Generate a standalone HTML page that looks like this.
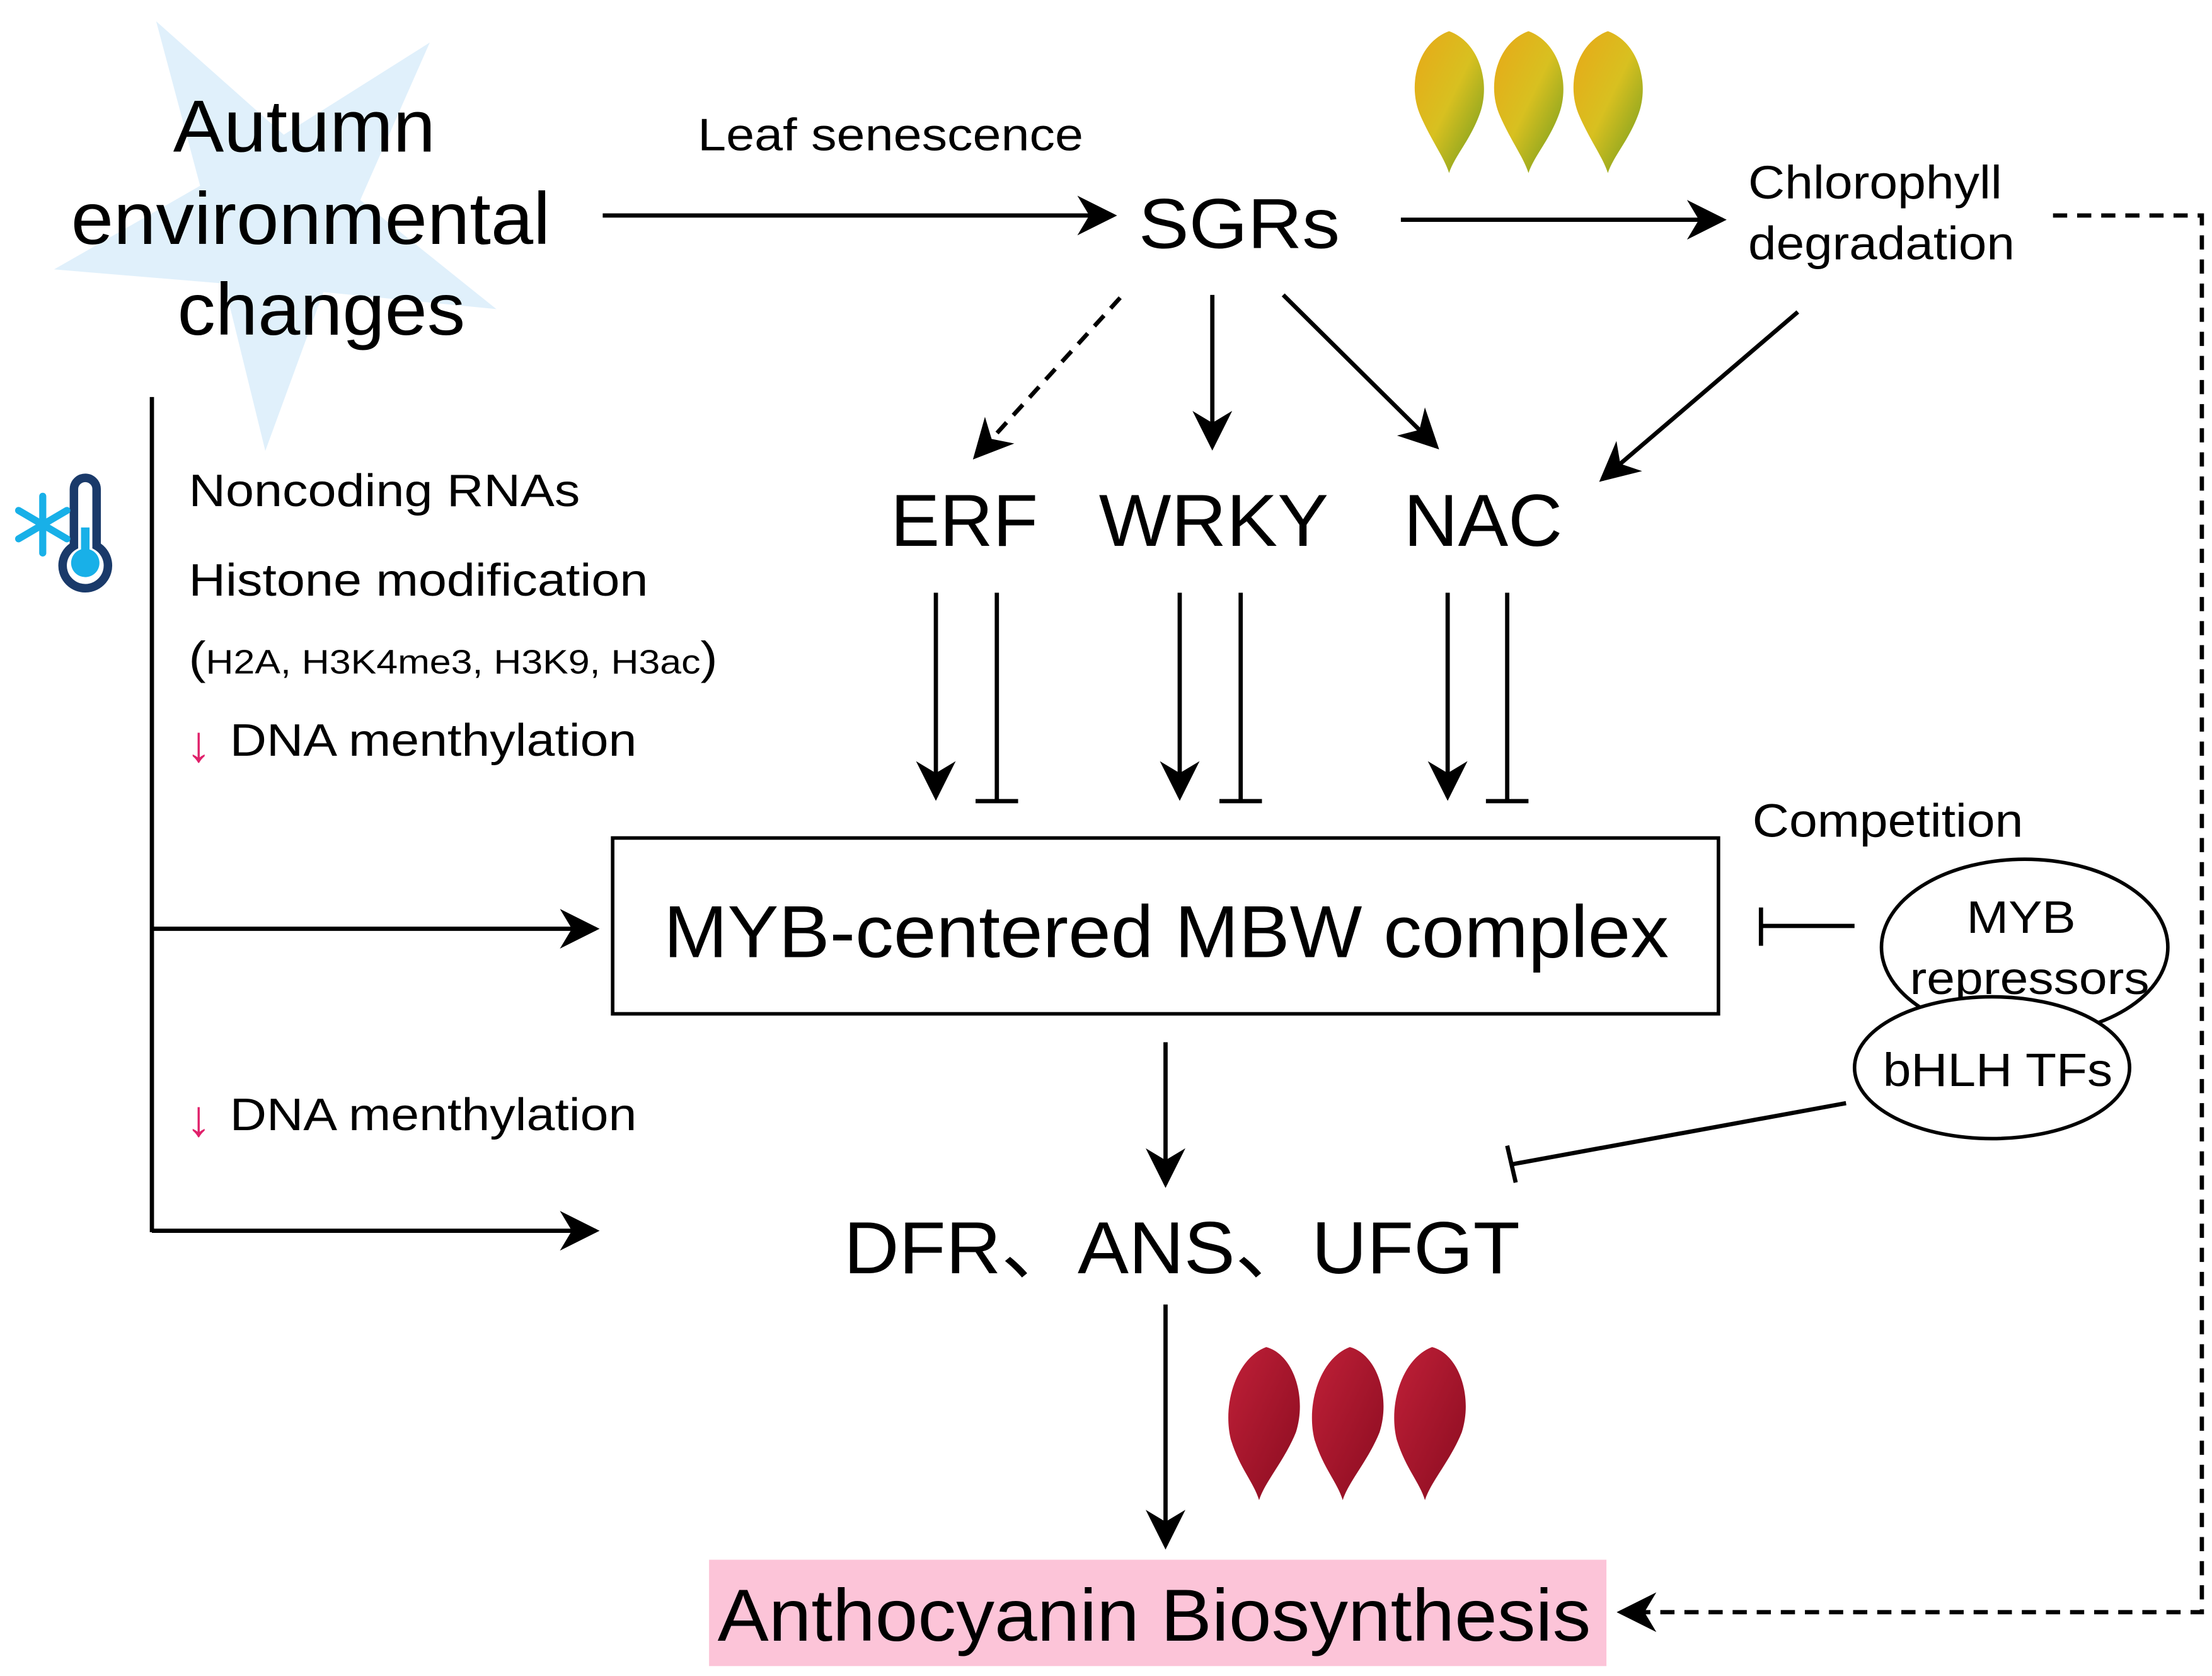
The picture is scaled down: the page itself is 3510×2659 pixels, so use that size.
<!DOCTYPE html>
<html><head><meta charset="utf-8"><style>
html,body{margin:0;padding:0;background:#fff;}
svg{display:block;}
text{font-family:"Liberation Sans",Arial,"Noto Sans CJK SC",sans-serif;fill:#000;}
</style></head><body>
<svg width="3510" height="2659" viewBox="0 0 1560 1182" xmlns="http://www.w3.org/2000/svg">
<defs>
<marker id="ahb" viewBox="0 0 10 10" refX="9" refY="5" markerWidth="28" markerHeight="28" markerUnits="userSpaceOnUse" orient="auto">
<path d="M0,0 L10,5 L0,10 L3,5 z" fill="#000"/></marker>
<linearGradient id="yl" x1="0" y1="0" x2="1" y2="1">
<stop offset="0" stop-color="#e8a818"/><stop offset="0.5" stop-color="#d8c020"/><stop offset="1" stop-color="#6a9a20"/></linearGradient>
<linearGradient id="rl" x1="0" y1="0" x2="1" y2="1">
<stop offset="0" stop-color="#c02038"/><stop offset="1" stop-color="#8a0c20"/></linearGradient>
</defs>
<rect width="1560" height="1182" fill="#fff"/>
<polygon points="110,15 200,95 303,30 254,141 350,218 228,206 187,318 158,200 38,190 141,131" fill="#e0f0fb"/>
<g font-size="52">
<text x="122" y="107" textLength="185" lengthAdjust="spacingAndGlyphs">Autumn</text>
<text x="50" y="172" textLength="338" lengthAdjust="spacingAndGlyphs">environmental</text>
<text x="125" y="236" textLength="203" lengthAdjust="spacingAndGlyphs">changes</text>
</g>
<text x="492" y="106" font-size="32" textLength="272" lengthAdjust="spacingAndGlyphs">Leaf senescence</text>
<line x1="425" y1="152" x2="785" y2="152" stroke="#000" stroke-width="3" marker-end="url(#ahb)"/>
<text x="803" y="175" font-size="50" textLength="142" lengthAdjust="spacingAndGlyphs">SGRs</text>
<line x1="988" y1="155" x2="1215" y2="155" stroke="#000" stroke-width="3" marker-end="url(#ahb)"/>
<text x="1233" y="140" font-size="33" textLength="179" lengthAdjust="spacingAndGlyphs">Chlorophyll</text>
<text x="1233" y="183" font-size="33" textLength="188" lengthAdjust="spacingAndGlyphs">degradation</text>

<g>
<path d="M1022,22 C1000,30 992,60 1002,82 C1010,100 1018,110 1022,122 C1026,110 1036,100 1043,82 C1052,60 1044,30 1022,22 z" fill="url(#yl)"/>
<path d="M1078,22 C1056,30 1048,60 1058,82 C1066,100 1074,110 1078,122 C1082,110 1092,100 1099,82 C1108,60 1100,30 1078,22 z" fill="url(#yl)"/>
<path d="M1134,22 C1112,30 1104,60 1114,82 C1122,100 1130,110 1134,122 C1138,110 1148,100 1155,82 C1164,60 1156,30 1134,22 z" fill="url(#yl)"/>
</g>

<polyline points="1448,152 1553,152 1553,1137 1143,1137" fill="none" stroke="#000" stroke-width="3" stroke-dasharray="10,7" marker-end="url(#ahb)"/>

<line x1="790" y1="210" x2="688" y2="322" stroke="#000" stroke-width="3" stroke-dasharray="10,7" marker-end="url(#ahb)"/>
<line x1="855" y1="208" x2="855" y2="315" stroke="#000" stroke-width="3" marker-end="url(#ahb)"/>
<line x1="905" y1="208" x2="1013" y2="315" stroke="#000" stroke-width="3" marker-end="url(#ahb)"/>
<line x1="1268" y1="220" x2="1130" y2="338" stroke="#000" stroke-width="3" marker-end="url(#ahb)"/>

<g font-size="52">
<text x="628" y="385" textLength="104" lengthAdjust="spacingAndGlyphs">ERF</text>
<text x="775" y="385" textLength="162" lengthAdjust="spacingAndGlyphs">WRKY</text>
<text x="990" y="385" textLength="112" lengthAdjust="spacingAndGlyphs">NAC</text>
</g>

<g stroke="#000" stroke-width="3">
<line x1="660" y1="418" x2="660" y2="562" marker-end="url(#ahb)"/>
<line x1="703" y1="418" x2="703" y2="565"/><line x1="688" y1="565" x2="718" y2="565"/>
<line x1="832" y1="418" x2="832" y2="562" marker-end="url(#ahb)"/>
<line x1="875" y1="418" x2="875" y2="565"/><line x1="860" y1="565" x2="890" y2="565"/>
<line x1="1021" y1="418" x2="1021" y2="562" marker-end="url(#ahb)"/>
<line x1="1063" y1="418" x2="1063" y2="565"/><line x1="1048" y1="565" x2="1078" y2="565"/>
</g>

<rect x="432" y="591" width="780" height="124" fill="#fff" stroke="#000" stroke-width="2.5"/>
<text x="468" y="675" font-size="52" textLength="709" lengthAdjust="spacingAndGlyphs">MYB-centered MBW complex</text>

<text x="1236" y="590" font-size="33" textLength="191" lengthAdjust="spacingAndGlyphs">Competition</text>
<g stroke="#000" stroke-width="3">
<line x1="1308" y1="653" x2="1242" y2="653"/><line x1="1242" y1="640" x2="1242" y2="667"/>
</g>
<ellipse cx="1428" cy="668" rx="101" ry="62" fill="#fff" stroke="#000" stroke-width="2.5"/>
<text x="1387" y="658" font-size="32" textLength="77" lengthAdjust="spacingAndGlyphs">MYB</text>
<text x="1347" y="701" font-size="32" textLength="169" lengthAdjust="spacingAndGlyphs">repressors</text>
<ellipse cx="1405" cy="753" rx="97" ry="50" fill="#fff" stroke="#000" stroke-width="2.5"/>
<text x="1328" y="766" font-size="33" textLength="162" lengthAdjust="spacingAndGlyphs">bHLH TFs</text>
<g stroke="#000" stroke-width="3">
<line x1="1302" y1="778" x2="1067" y2="821"/><line x1="1063" y1="808" x2="1069" y2="834"/>
</g>

<g stroke="#000" stroke-width="3">
<line x1="107" y1="280" x2="107" y2="869"/>
<line x1="107" y1="655" x2="420" y2="655" marker-end="url(#ahb)"/>
<line x1="107" y1="868" x2="420" y2="868" marker-end="url(#ahb)"/>
</g>

<g>
<path d="M52,345 a8,8 0 0 1 16,0 v40 a16,16 0 1 1 -16,0 z" fill="none" stroke="#1a3a6a" stroke-width="6"/>
<circle cx="60" cy="397" r="10" fill="#18b0e8"/>
<rect x="57" y="372" width="6" height="20" fill="#18b0e8"/>
<g stroke="#18b0e8" stroke-width="5" stroke-linecap="round">
<line x1="30" y1="350" x2="30" y2="390"/>
<line x1="13" y1="360" x2="47" y2="380"/>
<line x1="13" y1="380" x2="47" y2="360"/>
</g>
</g>

<text x="133" y="357" font-size="32" textLength="276" lengthAdjust="spacingAndGlyphs">Noncoding RNAs</text>
<text x="133" y="420" font-size="32" textLength="324" lengthAdjust="spacingAndGlyphs">Histone modification</text>
<text x="133" y="475" font-size="24" textLength="373" lengthAdjust="spacingAndGlyphs"><tspan font-size="32">(</tspan>H2A, H3K4me3, H3K9, H3ac<tspan font-size="32">)</tspan></text>
<text x="131" y="537" font-size="36" style="fill:#e0206a">↓</text>
<text x="162" y="533" font-size="32" textLength="287" lengthAdjust="spacingAndGlyphs">DNA menthylation</text>
<text x="131" y="801" font-size="36" style="fill:#e0206a">↓</text>
<text x="162" y="797" font-size="32" textLength="287" lengthAdjust="spacingAndGlyphs">DNA menthylation</text>

<line x1="822" y1="735" x2="822" y2="835" stroke="#000" stroke-width="3" marker-end="url(#ahb)"/>
<text x="595" y="898" font-size="52" textLength="477" lengthAdjust="spacingAndGlyphs">DFR、ANS、UFGT</text>
<line x1="822" y1="920" x2="822" y2="1090" stroke="#000" stroke-width="3" marker-end="url(#ahb)"/>

<g>
<path d="M893,950 C872,958 862,990 868,1015 C874,1035 884,1045 888,1058 C892,1045 906,1030 914,1010 C922,985 912,955 893,950 z" fill="url(#rl)"/>
<path d="M952,950 C931,958 921,990 927,1015 C933,1035 943,1045 947,1058 C951,1045 965,1030 973,1010 C981,985 971,955 952,950 z" fill="url(#rl)"/>
<path d="M1010,950 C989,958 979,990 985,1015 C991,1035 1001,1045 1005,1058 C1009,1045 1023,1030 1031,1010 C1039,985 1029,955 1010,950 z" fill="url(#rl)"/>
</g>

<rect x="500" y="1100" width="633" height="75" fill="#fcc4d8"/>
<text x="506" y="1157" font-size="52" textLength="616" lengthAdjust="spacingAndGlyphs">Anthocyanin Biosynthesis</text>
</svg>
</body></html>
